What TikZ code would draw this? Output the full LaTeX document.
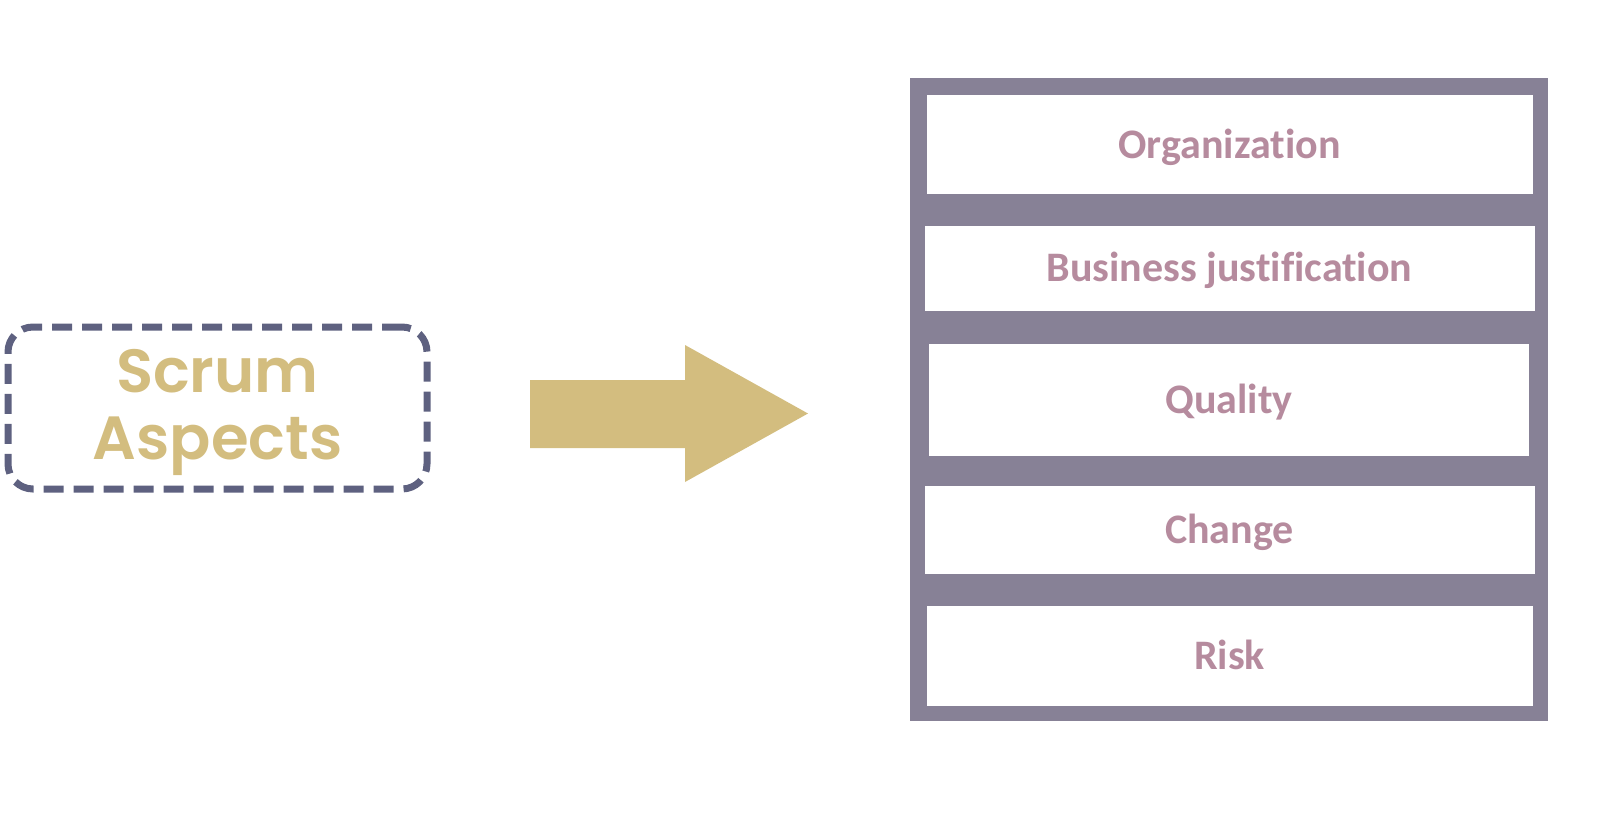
\documentclass[tikz,border=0pt]{standalone}
\usepackage{fontspec}
\setmainfont{Carlito}[Ligatures=NoCommon]
\newfontfamily\popfont{Poppins SemiBold}
\definecolor{framegrey}{HTML}{878196}
\definecolor{mauve}{HTML}{B68B9E}
\definecolor{gold}{HTML}{D3BD7F}
\definecolor{slate}{HTML}{5E6180}
\tikzset{
  item/.style={fill=white, draw=none, inner sep=0pt, text=mauve,
    font=\fontsize{42}{50}\selectfont\bfseries, text height=27pt, text depth=0pt},
  dashbox/.style={draw=slate, line width=7pt, dash pattern=on 20pt off 10pt,
    rounded corners=25pt, minimum width=419pt, minimum height=162pt,
    align=center, text=gold, inner sep=0pt, text depth=7pt,
    font=\popfont\fontsize{61}{67}\selectfont}
}
\begin{document}
\begin{tikzpicture}[x=1pt,y=-1pt]
\useasboundingbox (0,0) rectangle (1618,820);
% left dashed box
\node[dashbox] (aspects) at (217.5,408) {Scrum\\Aspects};
% big arrow
\fill[gold] (530,380) -- (685,380) -- (685,345) -- (808,413.5) -- (685,482) -- (685,448) -- (530,448) -- cycle;
% frame
\fill[framegrey] (910,78) rectangle (1548,721);
\node[item, minimum width=606pt, minimum height=99pt] (org) at (1229.5,144.5) {Organization};
\node[item, minimum width=610pt, minimum height=84.6pt] (bus) at (1229.5,268.3) {Business justification};
\node[item, minimum width=600.5pt, minimum height=112.5pt] (qual) at (1229,399.9) {Quality};
\node[item, minimum width=610pt, minimum height=87.7pt] (chg) at (1229.5,529.9) {Change};
\node[item, minimum width=606pt, minimum height=100pt] (risk) at (1229.5,655.8) {Risk};
\end{tikzpicture}
\end{document}
